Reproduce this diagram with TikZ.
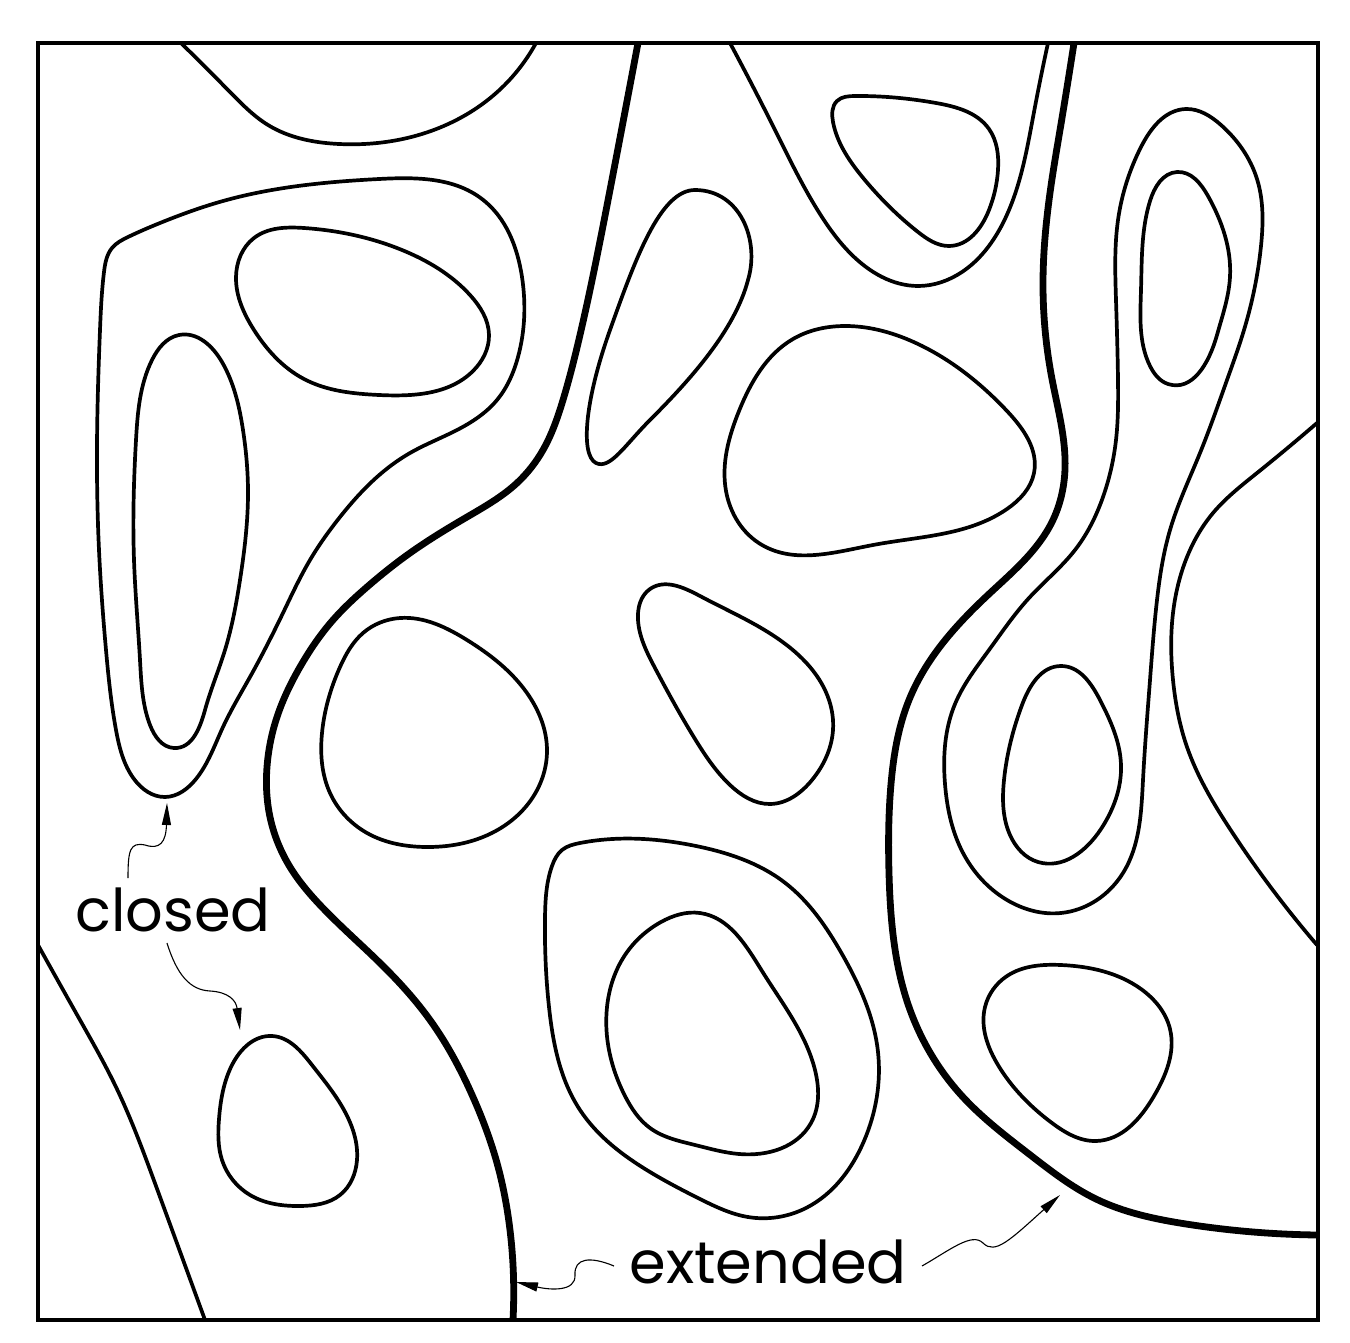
\documentclass[tikz,border=0pt]{standalone}
\usepackage{fontspec}
\setmainfont{Poppins}
\usetikzlibrary{arrows.meta,hobby}
\begin{document}
\begin{tikzpicture}[x=1pt,y=-1pt,
  frame/.style={line width=4pt},
  thin/.style={line width=3.7pt, line join=round, use Hobby shortcut},
  thick/.style={line width=6.8pt, line join=round, use Hobby shortcut},
  loop/.style={thin, closed=true},
  pointer/.style={line width=1.1pt, -{Triangle[length=22pt,width=9pt]}},
  lbl/.style={font=\fontsize{59}{66}\selectfont, inner sep=0pt}]
\useasboundingbox (0,0) rectangle (1350,1343);
\draw[frame] (38,43) rectangle (1318,1320);
% open thin curves
\draw[thin] (181,43) .. (230,92) .. (268,125) .. (339,144) .. (446,125) .. (495,94) .. (536,43);
\draw[thin] (38,945) .. (80,1020) .. (116,1087) .. (156,1186) .. (205,1320);
\draw[thin] (730,43) .. (775,130) .. (820,214) .. (851,254) .. (918,286) .. (962,272) .. (1003,223) .. (1034,112) .. (1048,43);
\draw[thin] (1317,423) .. (1257,473) .. (1213,513) .. (1187,557) .. (1173,613) .. (1173,680) .. (1187,747) .. (1230,829) .. (1317,945);
% thick extended curves
\draw[thick] (638,43) .. (610,190) .. (580,335) .. (563,400) .. (543,450) .. (517,483) .. (467,517) .. (410,553) .. (367,587) .. (333,620) .. (300,667) .. (277,717) .. (267,767) .. (270,817) .. (290,867) .. (320,905) .. (380,963) .. (430,1020) .. (473,1097) .. (497,1163) .. (510,1230) .. (513,1320);
\draw[thick] (1074,43) .. (1060,130) .. (1052,179) .. (1043,286) .. (1052,379) .. (1065,469) .. (1052,522) .. (989,594) .. (936,652) .. (909,700) .. (891,784) .. (889,873) .. (909,1007) .. (962,1096) .. (1029,1154) .. (1096,1199) .. (1186,1224) .. (1317,1235);
% closed loops
\draw[loop] (128,237) .. (160,223) .. (223,201) .. (379,179) .. (482,199) .. (522,277) .. (518,357) .. (497,400) .. (457,430) .. (410,453) .. (377,477) .. (340,517) .. (310,560) .. (283,613) .. (250,677) .. (223,727) .. (196,779) .. (165,797) .. (134,779) .. (116,730) .. (106,650) .. (99,550) .. (97,446) .. (100,330) .. (104,272) .. (112,248);
\draw[loop] (179,335) .. (222,362) .. (243,430) .. (248,491) .. (240,580) .. (225,650) .. (205,710) .. (174,748) .. (150,725) .. (140,660) .. (134,560) .. (136,440) .. (152,360);
\draw[loop] (304,228) .. (402,250) .. (470,295) .. (489,335) .. (473,371) .. (379,395) .. (304,379) .. (254,330) .. (236,277) .. (254,238);
\draw[loop] (272,1036) .. (312,1065) .. (344,1110) .. (357,1160) .. (340,1195) .. (300,1206) .. (250,1195) .. (222,1160) .. (219,1119) .. (232,1065);
\draw[loop] (400,618) .. (467,640) .. (527,693) .. (547,750) .. (533,797) .. (483,837) .. (427,847) .. (367,833) .. (330,793) .. (322,733) .. (340,667) .. (363,633);
\draw[line width=3.7pt, line join=round] (596,463) .. controls (580,455) and (585,400) .. (610,330) .. controls (635,260) and (660,190) .. (695,190) .. controls (740,190) and (760,240) .. (748,280) .. controls (735,330) and (690,380) .. (650,420) .. controls (625,445) and (610,470) .. (596,463) -- cycle;
\draw[loop] (855,96) .. (936,103) .. (989,129) .. (998,170) .. (989,210) .. (949,246) .. (918,232) .. (864,179) .. (833,122) .. (837,101);
\draw[loop] (962,851) .. (945,784) .. (955,704) .. (989,650) .. (1029,598) .. (1075,550) .. (1103,497) .. (1116,440) .. (1118,380) .. (1116,300) .. (1118,220) .. (1141,147) .. (1186,109) .. (1221,125) .. (1257,179) .. (1261,246) .. (1244,330) .. (1227,380) .. (1200,453) .. (1170,530) .. (1157,600) .. (1150,680) .. (1143,780) .. (1123,873) .. (1061,913) .. (1007,900);
\draw[loop] (1177,172) .. (1208,196) .. (1230,277) .. (1217,335) .. (1168,384) .. (1150,366) .. (1141,290) .. (1150,201);
\draw[loop] (1061,666) .. (1100,700) .. (1121,765) .. (1101,829) .. (1038,862) .. (1010,835) .. (1004,780) .. (1022,705);
\draw[loop] (846,326) .. (918,344) .. (1007,411) .. (1034,473) .. (1007,509) .. (873,545) .. (762,545) .. (726,491) .. (739,411) .. (793,339);
\draw[loop] (650,589) .. (700,596) .. (784,643) .. (829,700) .. (833,730) .. (812,780) .. (770,804) .. (730,785) .. (695,739) .. (655,668) .. (638,620);
\draw[loop] (580,843) .. (696,846) .. (784,882) .. (842,954) .. (878,1052) .. (864,1141) .. (806,1208) .. (748,1217) .. (700,1199) .. (650,1172) .. (580,1110) .. (549,1007) .. (545,918) .. (552,866) .. (562,850);
\draw[loop] (661,922) .. (700,913) .. (762,971) .. (815,1070) .. (811,1123) .. (739,1154) .. (695,1145) .. (650,1128) .. (625,1096) .. (607,1007) .. (625,955);
\draw[loop] (1061,965) .. (1141,989) .. (1170,1029) .. (1154,1096) .. (1096,1141) .. (1052,1123) .. (998,1065) .. (985,1007) .. (1007,976);
% labels
\node[lbl] (closed) at (173,910) {closed};
\node[lbl] (extended) at (768,1262) {extended};
% pointer ends
\coordinate (c1s) at (128,878);
\coordinate (c1t) at (167,803);
\coordinate (c2s) at (167,943);
\coordinate (c2t) at (240,1030);
\coordinate (e1s) at (614,1266);
\coordinate (e1t) at (516,1282);
\coordinate (e2s) at (922,1266);
\coordinate (e2t) at (1060,1195);
\draw[pointer] (c1s) .. controls (128,850) and (130,842) .. (145,845) .. controls (160,850) and (166,842) .. (c1t);
\draw[pointer] (c2s) .. controls (177,975) and (190,990) .. (210,991) .. controls (228,992) and (236,1000) .. (c2t);
\draw[pointer] (e1s) .. controls (590,1256) and (574,1258) .. (575,1275) .. controls (576,1292) and (550,1290) .. (e1t);
\draw[pointer] (e2s) .. controls (950,1250) and (972,1232) .. (983,1243) .. controls (995,1255) and (1010,1240) .. (e2t);
\end{tikzpicture}
\end{document}
